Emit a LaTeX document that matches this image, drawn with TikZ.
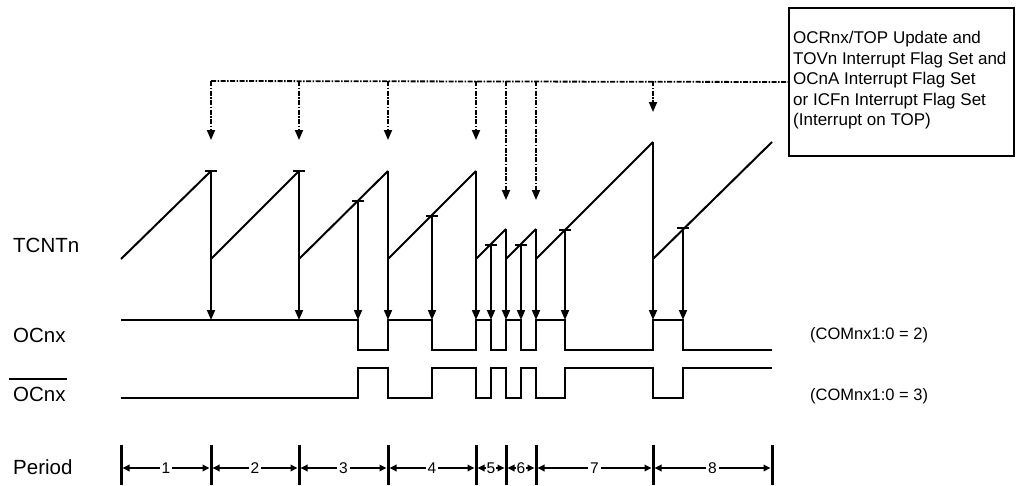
\documentclass[tikz,border=0pt]{standalone}
\usepackage{fontspec}
\setmainfont{Liberation Sans}
\usetikzlibrary{arrows.meta}
\begin{document}
\begin{tikzpicture}[x=1pt,y=-1pt,
  wave/.style={line width=2.2pt, line join=miter},
  ramp/.style={line width=2pt},
  evt/.style={line width=1.7pt, -{Triangle[length=10pt,width=8pt]}},
  topmark/.style={line width=2pt},
  dd/.style={line width=1.8pt, dash pattern=on 5pt off 1.5pt on 1.5pt off 1.5pt},
  ddarrow/.style={dd, -{Triangle[length=10pt,width=8pt]}},
  lbl/.style={font=\fontsize{20.5}{24}\selectfont, inner sep=0pt, anchor=base west},
  com/.style={font=\fontsize{16.5}{20}\selectfont, inner sep=0pt, anchor=base west},
  tick/.style={line width=3pt},
  per/.style={line width=1.7pt, shorten <=1.5pt, shorten >=1.5pt, {Triangle[length=7pt,width=6.5pt]}-{Triangle[length=7pt,width=6.5pt]}},
  num/.style={font=\fontsize{15.5}{18}\selectfont, fill=white, inner xsep=2pt, inner ysep=1pt},
]
\useasboundingbox (0,0) rectangle (1016,485);

% levels
\coordinate (oc) at (0,320);
\coordinate (low) at (0,259);
\coordinate (ddY) at (0,81);
\coordinate (ddA) at (0,140);
\coordinate (ddB) at (0,200);
\coordinate (ddC) at (0,112);

% event points on TCNTn
\coordinate (b0) at (121,259);
\coordinate (p1) at (211,171);
\coordinate (p2) at (299,171);
\coordinate (c3) at (358,201);
\coordinate (p3) at (388,171);
\coordinate (c4) at (432,216);
\coordinate (p4) at (476,171);
\coordinate (c5) at (491,245);
\coordinate (p5) at (506,229);
\coordinate (c6) at (521,245);
\coordinate (p6) at (536,229);
\coordinate (c7) at (565,230);
\coordinate (p7) at (653,142);
\coordinate (c8) at (683,228);
\coordinate (e8) at (772,142);

% TCNTn ramps
\draw[ramp] (b0) -- (p1);
\draw[ramp] (p1 |- low) -- (p2);
\draw[ramp] (p2 |- low) -- (p3);
\draw[ramp] (p3 |- low) -- (p4);
\draw[ramp] (p4 |- low) -- (p5);
\draw[ramp] (p5 |- low) -- (p6);
\draw[ramp] (p6 |- low) -- (p7);
\draw[ramp] (p7 |- low) -- (e8);

% compare marks
\foreach \c in {p1,p2,c3,c4,c5,c6,c7,c8}
  \draw[topmark] ([xshift=-6pt]\c) -- ([xshift=6pt]\c);

% event arrows down to OCnx
\foreach \c in {p1,p2,c3,p3,c4,p4,c5,p5,c6,p6,c7,p7,c8}
  \draw[evt] (\c) -- (\c |- oc);

% OCnx
\draw[wave] (121,320) -- (358,320) -- (358,350) -- (388,350) -- (388,320) -- (432,320) -- (432,350) -- (476,350) -- (476,320) -- (491,320) -- (491,350) -- (506,350) -- (506,320) -- (521,320) -- (521,350) -- (536,350) -- (536,320) -- (565,320) -- (565,350) -- (653,350) -- (653,320) -- (683,320) -- (683,350) -- (772,350);

% OCnx bar
\draw[wave] (121,398) -- (358,398) -- (358,368) -- (388,368) -- (388,398) -- (432,398) -- (432,368) -- (476,368) -- (476,398) -- (491,398) -- (491,368) -- (506,368) -- (506,398) -- (521,398) -- (521,368) -- (536,368) -- (536,398) -- (565,398) -- (565,368) -- (653,368) -- (653,398) -- (683,398) -- (683,368) -- (772,368);

% info box
\node[draw, line width=2pt, minimum width=225pt, minimum height=148pt, inner sep=0pt, anchor=north west] (box) at (788,7) {};
\node[anchor=north west, inner sep=0pt, align=left, font=\fontsize{17}{20.5}\selectfont] (boxtxt) at (793,31)
  {OCRnx/TOP Update and\\TOVn Interrupt Flag Set and\\OCnA Interrupt Flag Set\\or ICFn Interrupt Flag Set\\(Interrupt on TOP)};

% dash-dot update line
\draw[dd] (p1 |- ddY) -- (box.west);
\foreach \c in {p1,p2,p3,p4}
  \draw[ddarrow] (\c |- ddY) -- (\c |- ddA);
\foreach \c in {p5,p6}
  \draw[ddarrow] (\c |- ddY) -- (\c |- ddB);
\draw[ddarrow] (p7 |- ddY) -- (p7 |- ddC);

% labels
\node[lbl] (tcnt) at (13,252) {TCNTn};
\node[lbl] (ocnx) at (13,342) {OCnx};
\node[lbl] (ocnxb) at (13,401.7) {OCnx};
\draw[line width=1.8pt] ([xshift=-4pt,yshift=8.5pt]ocnxb.north west) -- ([xshift=1.5pt,yshift=8.5pt]ocnxb.north east);
\node[lbl] (period) at (13,474) {Period};
\node[com] (com2) at (810,339) {(COMnx1:0 = 2)};
\node[com] (com3) at (810,400) {(COMnx1:0 = 3)};

% period ruler
\coordinate (t0) at (121,468);
\coordinate (t1) at (211,468);
\coordinate (t2) at (299,468);
\coordinate (t3) at (388,468);
\coordinate (t4) at (476,468);
\coordinate (t5) at (506,468);
\coordinate (t6) at (536,468);
\coordinate (t7) at (653,468);
\coordinate (t8) at (772,468);
\foreach \t in {t0,t1,t2,t3,t4,t5,t6,t7,t8}
  \draw[tick] ([yshift=23pt]\t) -- ([yshift=-17pt]\t);
\draw[per] (t0) -- node[num] {1} (t1);
\draw[per] (t1) -- node[num] {2} (t2);
\draw[per] (t2) -- node[num] {3} (t3);
\draw[per] (t3) -- node[num] {4} (t4);
\draw[per] (t4) -- node[num, inner xsep=0.5pt] {5} (t5);
\draw[per] (t5) -- node[num, inner xsep=0.5pt] {6} (t6);
\draw[per] (t6) -- node[num] {7} (t7);
\draw[per] (t7) -- node[num] {8} (t8);
\end{tikzpicture}
\end{document}
